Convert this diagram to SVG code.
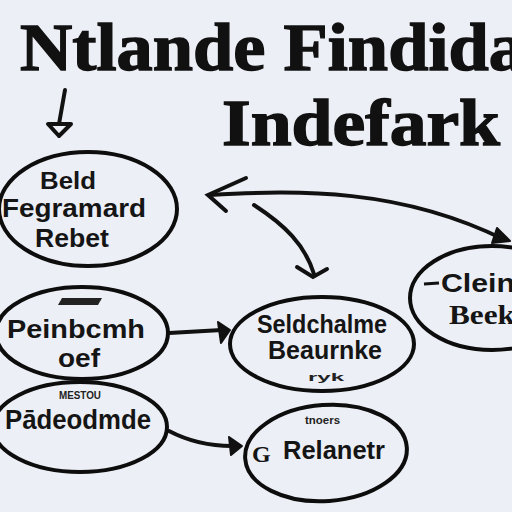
<svg xmlns="http://www.w3.org/2000/svg" width="512" height="512" viewBox="0 0 512 512">
  <defs>
    <style>
      .title { font-family: "Liberation Serif", "DejaVu Serif", serif; font-weight: bold; fill: #111; stroke: #111; stroke-width: 1.4; }
      .lbl { font-family: "Liberation Sans", "DejaVu Sans", sans-serif; font-weight: bold; fill: #151515; }
      .lbls { font-family: "Liberation Serif", "DejaVu Serif", serif; font-weight: bold; fill: #151515; }
      .small { font-family: "Liberation Sans", "DejaVu Sans", sans-serif; font-weight: bold; fill: #222; font-size: 10px; }
      .node { fill: none; stroke: #0d0d0d; stroke-width: 4; }
      .conn { fill: none; stroke: #111; stroke-width: 4; stroke-linecap: round; }
      .head { fill: #111; stroke: #111; stroke-width: 2; stroke-linejoin: round; }
    </style>
  </defs>
  <rect x="0" y="0" width="512" height="512" fill="#eceff5"/>

  <g id="title">
    <text class="title" x="20" y="70" font-size="68" textLength="505" lengthAdjust="spacingAndGlyphs">Ntlande Findida</text>
    <text class="title" x="222" y="145" font-size="66" textLength="278" lengthAdjust="spacingAndGlyphs">Indefark</text>
  </g>

  <g id="connectors">
    <path class="conn" d="M65,90 L59,124"/>
    <path d="M48,124 L71,124 L59,136 Z" fill="none" stroke="#111" stroke-width="4" stroke-linejoin="round"/>
    <path class="conn" d="M210,195 C300,190 400,188 505,240"/>
    <path class="conn" d="M246,178 L208,195 L226,211"/>
    <path class="head" d="M497,228 L510,241 L492,243 Z"/>
    <path class="conn" d="M254,205 C285,225 305,245 314,274"/>
    <path class="conn" d="M297,267 L313,277 L327,269"/>
    <path class="conn" d="M169,333 L222,330"/>
    <path class="head" d="M218,322 L230,330 L221,343 Z"/>
    <path class="conn" d="M169,431 C190,442 210,446 232,446"/>
    <path class="head" d="M229,437 L242,446 L231,455 Z"/>
  </g>

  <g id="node-beld">
    <ellipse class="node" cx="88" cy="209" rx="89" ry="57"/>
    <text class="lbl" x="68" y="189" font-size="23" text-anchor="middle" textLength="56" lengthAdjust="spacingAndGlyphs">Beld</text>
    <text class="lbl" x="74" y="217" font-size="25" text-anchor="middle" textLength="144" lengthAdjust="spacingAndGlyphs">Fegramard</text>
    <text class="lbl" x="72" y="247" font-size="25" text-anchor="middle" textLength="74" lengthAdjust="spacingAndGlyphs">Rebet</text>
  </g>

  <g id="node-clein">
    <ellipse class="node" cx="492" cy="298" rx="82" ry="52"/>
    <path d="M424,284 L439,283" stroke="#111" stroke-width="3"/>
    <text class="lbl" x="441" y="292" font-size="26" textLength="74" lengthAdjust="spacingAndGlyphs">Clein</text>
    <text class="lbls" x="449" y="324" font-size="28" textLength="66" lengthAdjust="spacingAndGlyphs">Beek</text>
  </g>

  <g id="node-peinbcmh">
    <ellipse class="node" cx="82" cy="333" rx="86" ry="46"/>
    <path d="M62,298 L102,298 L98,305 L58,305 Z" fill="#222"/>
    <text class="lbl" x="76" y="338" font-size="26" text-anchor="middle" textLength="138" lengthAdjust="spacingAndGlyphs">Peinbcmh</text>
    <text class="lbl" x="79" y="367" font-size="26" text-anchor="middle" textLength="42" lengthAdjust="spacingAndGlyphs">oef</text>
  </g>

  <g id="node-padeodmde">
    <ellipse class="node" cx="80" cy="427" rx="87" ry="45"/>
    <text class="small" x="80" y="399" text-anchor="middle" textLength="42" lengthAdjust="spacingAndGlyphs">MESTOU</text>
    <text class="lbl" x="78" y="429" font-size="27" text-anchor="middle" textLength="146" lengthAdjust="spacingAndGlyphs">Pādeodmde</text>
  </g>

  <g id="node-seldchalme">
    <ellipse class="node" cx="322" cy="344" rx="92" ry="47"/>
    <text class="lbl" x="257" y="333" font-size="25" textLength="130" lengthAdjust="spacingAndGlyphs">Seldchalme</text>
    <text class="lbl" x="268" y="359" font-size="25" textLength="114" lengthAdjust="spacingAndGlyphs">Beaurnke</text>
    <text class="small" x="308" y="381" textLength="36" lengthAdjust="spacingAndGlyphs">ryk</text>
  </g>

  <g id="node-relanetr">
    <ellipse class="node" cx="326" cy="453" rx="81" ry="48" transform="rotate(-4 326 453)"/>
    <text class="small" x="305" y="424" textLength="35" lengthAdjust="spacingAndGlyphs">tnoers</text>
    <text class="lbls" x="252" y="462" font-size="24">G</text>
    <text class="lbl" x="283" y="459" font-size="26" textLength="102" lengthAdjust="spacingAndGlyphs">Relanetr</text>
  </g>
</svg>
